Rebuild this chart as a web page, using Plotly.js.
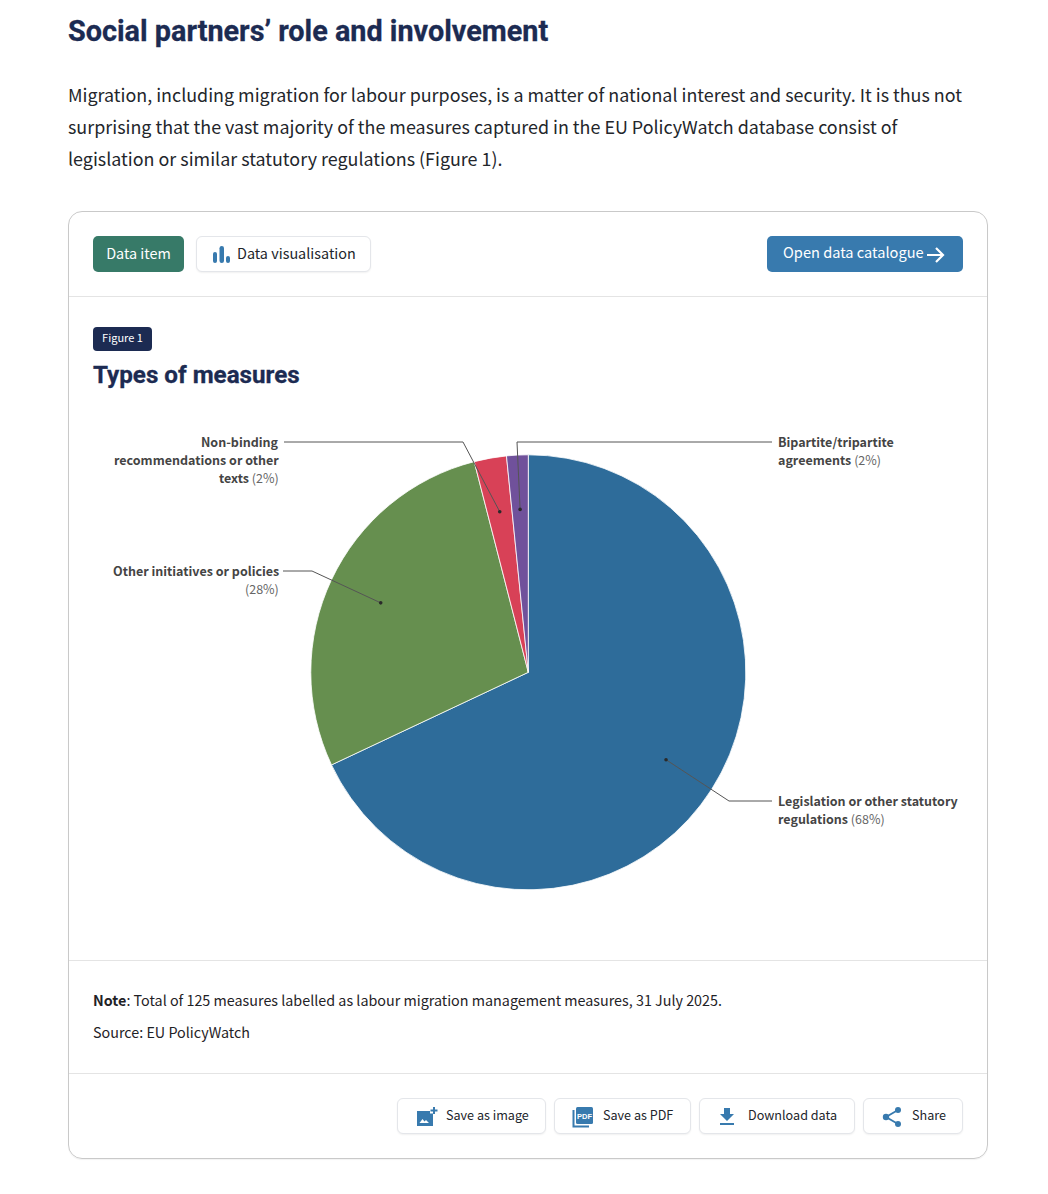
<!DOCTYPE html>
<html><head><meta charset="utf-8">
<script src="https://cdn.plot.ly/plotly-3.0.1.min.js"></script>
<style>
html,body{margin:0;padding:0;background:#fff;width:1048px;height:1194px;overflow:hidden}
body{font-family:"Noto Sans CJK SC","Noto Sans",sans-serif;color:#1a1a1a;position:relative}
.a{position:absolute;white-space:nowrap}
.h{font-family:Roboto,sans-serif;font-weight:700;color:#1c2b52;-webkit-text-stroke:.3px #1c2b52}
.btn{position:absolute;box-sizing:border-box;height:36px;border:1px solid #e4e6ea;border-radius:6px;background:#fff;box-shadow:0 1px 2px rgba(0,0,0,.06)}
.btn span{position:absolute;top:0;line-height:32px;font-size:12.6px;color:#22252b;white-space:nowrap}
.btn svg{position:absolute}
.rule{position:absolute;left:69px;width:918px;height:1px;background:#e4e4e4}
#plot{position:absolute;left:0;top:0;width:1048px;height:1194px}
</style></head><body>
<div class="a h" style="left:68px;top:13px;font-size:28.8px;line-height:36px">Social partners’ role and involvement</div>
<div class="a" style="left:68px;top:78px;font-size:17.9px;line-height:32px;color:#23262b">Migration, including migration for labour purposes, is a matter of national interest and security. It is thus not<br>surprising that the vast majority of the measures captured in the EU PolicyWatch database consist of<br>legislation or similar statutory regulations (Figure 1).</div>
<div class="a" style="left:68px;top:211px;width:920px;height:948px;box-sizing:border-box;border:1px solid #c9c9c9;border-radius:14px;box-shadow:0 1px 1px rgba(0,0,0,.05)"></div>
<div class="rule" style="top:296px"></div><div class="rule" style="top:960px"></div><div class="rule" style="top:1073px"></div>
<div class="a" style="left:93px;top:236px;width:91px;height:36px;background:#377a68;border-radius:5px;color:#fff;font-size:14.4px;line-height:34px;text-align:center">Data item</div>
<div class="btn" style="left:196px;top:236px;width:175px"><svg style="left:15px;top:8px" width="18" height="19"><rect x="1" y="7" width="4" height="11" rx="2" fill="#387aae"/><rect x="7.5" y="1" width="4.5" height="17" rx="2.2" fill="#387aae"/><rect x="14" y="11" width="4" height="7" rx="2" fill="#387aae"/></svg><span style="left:40px;font-size:14.4px">Data visualisation</span></div>
<div class="a" style="left:767px;top:236px;width:196px;height:36px;background:#387aae;border-radius:5px;color:#fff;font-size:14.6px;line-height:32px"><span style="position:absolute;left:16px">Open data catalogue</span><svg style="position:absolute;left:159px;top:10px" width="20" height="18" fill="none" stroke="#fff" stroke-width="2.2"><path d="M1 9H17M10 2l7 7-7 7"/></svg></div>
<div class="a" style="left:93px;top:327px;width:59px;height:24px;background:#1c2b52;border-radius:4px;color:#fff;font-size:11px;line-height:21px;text-align:center">Figure 1</div>
<div class="a h" style="left:93px;top:359px;font-size:24.2px;line-height:32px">Types of measures</div>
<div class="a" style="left:93px;top:989px;font-size:14.33px;line-height:22px;color:#1f2226"><b>Note</b>: Total of 125 measures labelled as labour migration management measures, 31 July 2025.</div>
<div class="a" style="left:93px;top:1021px;font-size:14.33px;line-height:22px;color:#1f2226">Source: EU PolicyWatch</div>
<div class="btn" style="left:397px;top:1098px;width:149px"><svg style="left:18px;top:8px" width="22" height="20"><path d="M1 4h13v2.5h3V19H1z" fill="#387aae"/><path d="M3.5 16l3-4 2 2.5 1.5-1.5 3 3z" fill="#fff"/><path d="M18 0v7M14.5 3.5h7" stroke="#387aae" stroke-width="2"/></svg><span style="left:48px">Save as image</span></div>
<div class="btn" style="left:554px;top:1098px;width:137px"><svg style="left:17px;top:7px" width="22" height="22"><path d="M1.5 4v16.5H17" fill="none" stroke="#387aae" stroke-width="2"/><rect x="4" y="1" width="17" height="17" rx="1.5" fill="#387aae"/><text x="12.5" y="12.5" font-size="7.5" font-weight="700" fill="#fff" text-anchor="middle" font-family="Liberation Sans">PDF</text></svg><span style="left:48px">Save as PDF</span></div>
<div class="btn" style="left:699px;top:1098px;width:156px"><svg style="left:18px;top:8px" width="18" height="20" fill="#387aae"><path d="M6 1h6v6h4l-7 7-7-7h4z"/><rect x="2" y="16" width="14" height="2"/></svg><span style="left:48px">Download data</span></div>
<div class="btn" style="left:863px;top:1098px;width:100px"><svg style="left:18px;top:7px" width="20" height="22"><path d="M16 4L4 11l12 7" fill="none" stroke="#387aae" stroke-width="1.8"/><circle cx="16" cy="4" r="3" fill="#387aae"/><circle cx="4" cy="11" r="3.2" fill="#387aae"/><circle cx="16" cy="18" r="3" fill="#387aae"/></svg><span style="left:48px">Share</span></div>
<div id="plot"></div>
<script>
// chart data (counts out of the 125 measures)
const categories = ['Legislation or other statutory regulations','Other initiatives or policies','Non-binding recommendations or other texts','Bipartite/tripartite agreements'];
const values = [85, 35, 3, 2];
const percentLabels = ['68%','28%','2%','2%'];
const colors = ['#2e6c9a','#668f4f','#d84157','#70519b'];

// label text broken as in the figure
const labelLines = [
  ['<b>Legislation or other statutory</b>','<b>regulations</b> <span style="color:#666">(PCT)</span>'],
  ['<b>Other initiatives or policies</b>','<span style="color:#666">(PCT)</span>'],
  ['<b>Non-binding</b>','<b>recommendations or other</b>','<b>texts</b> <span style="color:#666">(PCT)</span>'],
  ['<b>Bipartite/tripartite</b>','<b>agreements</b> <span style="color:#666">(PCT)</span>']
];
// layout in page pixels
const W=1048,H=1194,cx=528.3,cy=672.3,R=217.5;
const labelPlace = [
  {x:776,y:800.5,anchor:'left', elbow:[729,801],end:772},
  {x:281,y:570.5,anchor:'right',elbow:[312,571],end:283},
  {x:281,y:441.5,anchor:'right',elbow:[463,442],end:284},
  {x:776,y:441.5,anchor:'left', elbow:[517,442],end:772}
];
const px=x=>x/W, py=y=>1-y/H;
const total=values.reduce((a,b)=>a+b,0);
let cum=0;
const shapes=[],annotations=[];
values.forEach((v,i)=>{
  const mid=(cum+v/2)/total*2*Math.PI; cum+=v;
  const dx=cx+0.75*R*Math.sin(mid), dy=cy-0.75*R*Math.cos(mid);
  const p=labelPlace[i];
  shapes.push({type:'path',xref:'paper',yref:'paper',
    path:`M${px(dx)},${py(dy)}L${px(p.elbow[0])},${py(p.elbow[1])}L${px(p.end)},${py(p.elbow[1])}`,
    line:{color:'#555',width:1}});
  shapes.push({type:'circle',xref:'paper',yref:'paper',
    x0:px(dx-1.8),x1:px(dx+1.8),y0:py(dy+1.8),y1:py(dy-1.8),fillcolor:'#2a2a2a',line:{width:0}});
  labelLines[i].forEach((t,k)=>{
    annotations.push({xref:'paper',yref:'paper',x:px(p.x),y:py(p.y+k*18),xanchor:p.anchor,yanchor:'middle',
      showarrow:false,align:p.anchor,
      text:t.replace('PCT',percentLabels[i]),
      font:{family:'"Noto Sans CJK SC","Noto Sans",sans-serif',size:12.5,color:'#444'}});
  });
});
Plotly.newPlot('plot',[{
  type:'pie',labels:categories,values:values,sort:false,direction:'clockwise',rotation:0,
  textinfo:'none',hoverinfo:'label+percent',showlegend:false,
  marker:{colors:colors,line:{color:'#fff',width:0.8}},
  domain:{x:[px(cx-R),px(cx+R)],y:[py(cy+R),py(cy-R)]}
}],{
  width:W,height:H,margin:{l:0,r:0,t:0,b:0},autosize:false,
  paper_bgcolor:'rgba(0,0,0,0)',plot_bgcolor:'rgba(0,0,0,0)',
  showlegend:false,shapes:shapes,annotations:annotations
},{displayModeBar:false,staticPlot:true});
</script>
</body></html>
